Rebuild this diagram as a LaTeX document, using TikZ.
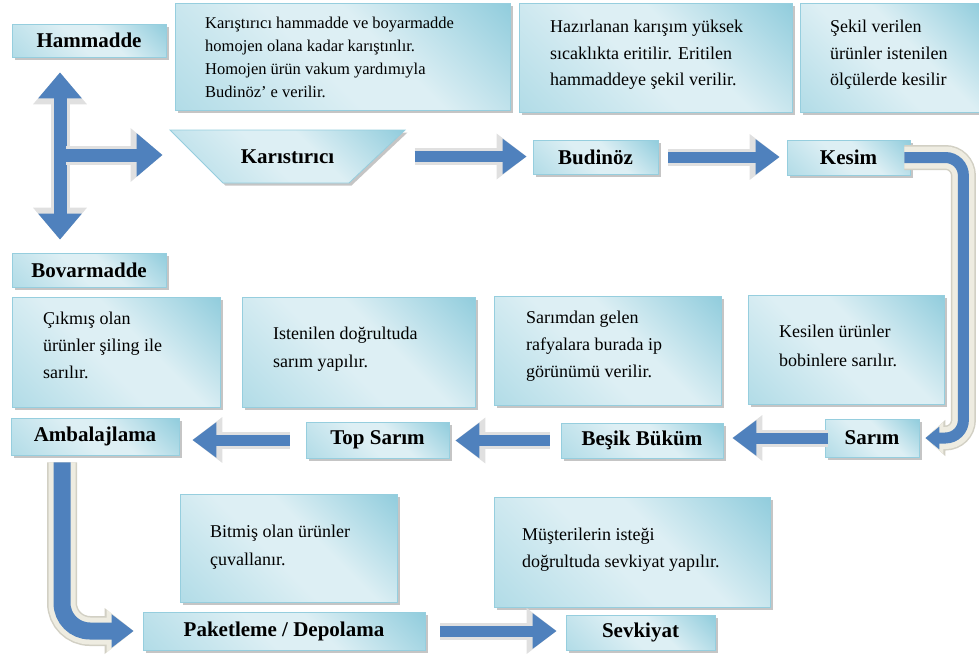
\documentclass[tikz,border=0pt]{standalone}
\usepackage{fontspec}
\setmainfont{Liberation Serif}
\usetikzlibrary{shadows,arrows.meta}
\definecolor{boxlight}{RGB}{221,239,244}
\definecolor{boxmid}{RGB}{178,220,231}
\definecolor{boxdark}{RGB}{146,205,221}
\definecolor{boxedge}{RGB}{150,206,222}
\definecolor{arrowblue}{RGB}{79,129,189}
\definecolor{arrowrim}{RGB}{224,224,224}
\definecolor{bandcream}{RGB}{238,236,225}
\definecolor{bandedge}{RGB}{210,208,196}
\pgfdeclarehorizontalshading{glass}{100bp}{color(0bp)=(boxmid); color(15bp)=(boxmid); color(45bp)=(boxlight); color(58bp)=(boxlight); color(85bp)=(boxdark); color(100bp)=(boxdark)}
\tikzset{
  glassbox/.style={draw=boxedge, line width=0.8pt, shading=glass, shading angle=45,
    drop shadow={shadow xshift=2.5pt, shadow yshift=-2.5pt, fill=black!45, opacity=0.5}},
  titlefont/.style={font=\fontsize{21}{24}\selectfont\bfseries},
  titlebox/.style={glassbox, titlefont, inner sep=0pt},
  notebox/.style={glassbox, anchor=north west},
  notetext/.style={anchor=north west, align=left, inner sep=0pt, font=\fontsize{18}{27}\selectfont},
  flowarrow/.style={draw=arrowblue, line width=11pt, arrows={-Triangle[length=24pt,width=34pt]},
    preaction={draw=arrowrim, line width=17pt, arrows={-Triangle[length=30pt,width=44pt]}}},
  forkarrow/.style={draw=arrowblue, line width=13pt, arrows={-Triangle[length=26pt,width=42pt]},
    preaction={draw=arrowrim, line width=19pt, arrows={-Triangle[length=32pt,width=52pt]}}},
  twowayarrow/.style={draw=arrowblue, line width=13pt,
    arrows={Triangle[length=26pt,width=42pt]-Triangle[length=26pt,width=42pt]},
    preaction={draw=arrowrim, line width=19pt,
      arrows={Triangle[length=32pt,width=52pt]-Triangle[length=32pt,width=52pt]}}},
}
\begin{document}
\begin{tikzpicture}[x=1pt,y=-1pt]
  \useasboundingbox (0,0) rectangle (979,664);
  % notes
  \node[notebox, minimum width=335pt, minimum height=107pt] (mixnote) at (175,3) {};
  \node[notetext, font=\fontsize{16.5}{23}\selectfont] (mixtext) at ([xshift=30pt,yshift=-14pt]mixnote.north west)
    {Karıştırıcı hammadde ve boyarmadde\\homojen olana kadar karıştınlır.\\Homojen ürün vakum yardımıyla\\Budinöz’ e verilir.};
  \node[notebox, minimum width=273pt, minimum height=109pt] (meltnote) at (519,3) {};
  \node[notetext, font=\fontsize{18}{26.5}\selectfont] (melttext) at ([xshift=31pt,yshift=-17pt]meltnote.north west)
    {Hazırlanan karışım yüksek\\sıcaklıkta eritilir. Eritilen\\hammaddeye şekil verilir.};
  \node[notebox, minimum width=182pt, minimum height=109pt] (cutnote) at (800,3) {};
  \node[notetext, font=\fontsize{18}{26.5}\selectfont] (cuttext) at ([xshift=30pt,yshift=-17pt]cutnote.north west)
    {Şekil verilen\\ürünler istenilen\\ölçülerde kesilir};
  \node[notebox, minimum width=208pt, minimum height=110pt] (wrapnote) at (12,297) {};
  \node[notetext] (wraptext) at ([xshift=31pt,yshift=-15pt]wrapnote.north west)
    {Çıkmış olan\\ürünler şiling ile\\sarılır.};
  \node[notebox, minimum width=233pt, minimum height=110pt] (ballnote) at (242,297) {};
  \node[notetext, font=\fontsize{18}{28}\selectfont] (balltext) at ([xshift=31pt,yshift=-30pt]ballnote.north west)
    {Istenilen doğrultuda\\sarım yapılır.};
  \node[notebox, minimum width=227pt, minimum height=109pt] (twistnote) at (494,296) {};
  \node[notetext] (twisttext) at ([xshift=32pt,yshift=-15pt]twistnote.north west)
    {Sarımdan gelen\\rafyalara burada ip\\görünümü verilir.};
  \node[notebox, minimum width=196pt, minimum height=109pt] (coilnote) at (748,295) {};
  \node[notetext, font=\fontsize{18}{29}\selectfont] (coiltext) at ([xshift=31pt,yshift=-30pt]coilnote.north west)
    {Kesilen ürünler\\bobinlere sarılır.};
  \node[notebox, minimum width=217pt, minimum height=108pt] (packnote) at (180,494) {};
  \node[notetext, font=\fontsize{18}{28}\selectfont] (packtext) at ([xshift=30pt,yshift=-31pt]packnote.north west)
    {Bitmiş olan ürünler\\çuvallanır.};
  \node[notebox, minimum width=276pt, minimum height=110pt] (shipnote) at (494,497) {};
  \node[notetext] (shiptext) at ([xshift=28pt,yshift=-31pt]shipnote.north west)
    {Müşterilerin isteği\\doğrultuda sevkiyat yapılır.};
  % steps
  \node[titlebox, minimum width=154pt, minimum height=33pt] (hammadde) at (89,40.5) {Hammadde};
  \node[titlebox, minimum width=154pt, minimum height=34pt] (bovar) at (89,270) {Bovarmadde};
  \path[glassbox] (170,130) -- (405,130) -- (349,183) -- (223,183) -- cycle;
  \node[titlefont, inner sep=0pt] (karis) at (287.5,156.5) {Karıstırıcı};
  \node[titlebox, minimum width=125pt, minimum height=34pt] (budinoz) at (595.5,157) {Budinöz};
  \node[titlebox, minimum width=123pt, minimum height=35pt] (kesim) at (848.5,157.5) {Kesim};
  \node[titlebox, minimum width=94pt, minimum height=38pt] (sarim) at (872,438) {Sarım};
  \node[titlebox, minimum width=162pt, minimum height=35pt] (besik) at (642,440.5) {Beşik Büküm};
  \node[titlebox, minimum width=143pt, minimum height=36pt] (topsarim) at (377.5,440) {Top Sarım};
  \node[titlebox, minimum width=168pt, minimum height=37pt] (amb) at (95,436.5) {Ambalajlama};
  \node[titlebox, minimum width=282pt, minimum height=38pt] (paket) at (284,631) {Paketleme / Depolama};
  \node[titlebox, minimum width=149pt, minimum height=35pt] (sevk) at (640.5,632.5) {Sevkiyat};
  % arrows
  \draw[twowayarrow, shorten <=15pt, shorten >=13pt] ([xshift=-29pt]hammadde.south) -- ([xshift=-29pt]bovar.north);
  \coordinate (fork) at (66,155);
  \draw[forkarrow, shorten >=125pt] (fork) -- (fork -| karis.center);
  \draw[flowarrow, shorten <=127pt, shorten >=6pt] (karis.center) -- (karis.center -| budinoz.west);
  \draw[flowarrow, shorten <=10pt, shorten >=7pt] (budinoz.east) -- (budinoz.east -| kesim.west);
  \draw[flowarrow, shorten <=-3pt, shorten >=9pt] (sarim.west) -- (sarim.west -| besik.east);
  \draw[flowarrow, shorten <=11pt, shorten >=6pt] (besik.west) -- (besik.west -| topsarim.east);
  \draw[flowarrow, shorten <=16pt, shorten >=13pt] (topsarim.west) -- (topsarim.west -| amb.east);
  \draw[flowarrow, shorten <=15pt, shorten >=9pt] (paket.east) -- (paket.east -| sevk.west);
  \draw[draw=arrowblue, line width=11pt, rounded corners=18pt, shorten >=6pt,
    arrows={-Triangle[length=14pt,width=22pt]},
    preaction={draw=bandedge, line width=25pt, arrows={-Triangle[length=20pt,width=35pt]}},
    preaction={draw=bandcream, line width=22pt, arrows={-Triangle[length=18pt,width=31pt]}}]
    ([xshift=-6pt]kesim.east) -| ([xshift=44pt]sarim.east) -- (sarim.east);
  \draw[draw=arrowblue, line width=17pt, rounded corners=28pt, shorten <=7pt, shorten >=9pt,
    arrows={-Triangle[length=22pt,width=32pt]},
    preaction={draw=bandedge, line width=30pt, arrows={-Triangle[length=29pt,width=44pt]}},
    preaction={draw=bandcream, line width=27pt, arrows={-Triangle[length=27pt,width=41pt]}}]
    ([xshift=-33pt]amb.south) |- (paket.west);
\end{tikzpicture}
\end{document}
